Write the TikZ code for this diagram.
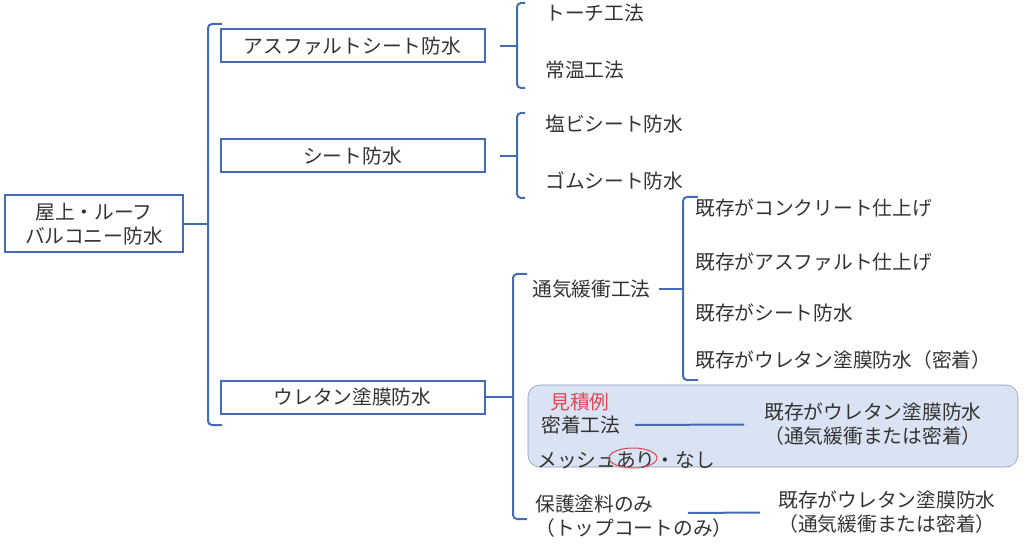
\documentclass[tikz,border=0pt]{standalone}
\usepackage{fontspec}
\setmainfont{Noto Sans CJK JP}
\usepackage{xcolor}
\usetikzlibrary{shapes.geometric}
\definecolor{lineblue}{RGB}{68,108,180}
\definecolor{boxfill}{RGB}{218,227,243}
\definecolor{boxedge}{RGB}{132,151,176}
\definecolor{mark}{RGB}{222,72,84}
\tikzset{
  box/.style={draw=lineblue, line width=1.5pt, minimum width=198pt, minimum height=24.75pt, inner sep=0pt},
  txt/.style={anchor=west, inner sep=0pt},
  brk/.style={draw=lineblue, line width=1.5pt, rounded corners=3pt},
  oval/.style={ellipse, draw=mark, line width=0.75pt, minimum width=36pt, minimum height=15pt, inner sep=0pt},
  every edge/.style={draw=lineblue, line width=1.5pt},
}

\begin{document}
\begin{tikzpicture}[x=0.75pt, y=-0.75pt, every node/.style={font=\fontsize{14.8}{18}\selectfont, text=black!80}]
  \useasboundingbox (0, 0) rectangle (1024, 545);

  \node[box, minimum width=133.5pt, minimum height=42.75pt, align=center] at (94, 224) (root) {屋上・ルーフ\\バルコニー防水};

  \node[box] at (352.5, 46)  (asph)  {アスファルトシート防水};
  \node[box] at (352.5, 156) (sheet) {シート防水};
  \node[box] at (352.5, 397) (ure)   {ウレタン塗膜防水};

  \node[txt] at (545, 13)  (torch) {トーチ工法};
  \node[txt] at (545, 70)  (jouon) {常温工法};
  \node[txt] at (545, 124) (enbi)  {塩ビシート防水};
  \node[txt] at (545, 181) (gomu)  {ゴムシート防水};

  \node[txt] at (532, 289) (tsuki) {通気緩衝工法};
  \node[txt] at (695, 208) (k1) {既存がコンクリート仕上げ};
  \node[txt] at (695, 262) (k2) {既存がアスファルト仕上げ};
  \node[txt] at (695, 313) (k3) {既存がシート防水};
  \node[txt] at (695, 360) (k4) {既存がウレタン塗膜防水（密着）};

  \node[draw=boxedge, fill=boxfill, rounded corners=9pt, minimum width=367.5pt, minimum height=61.5pt] at (773, 426) (ex) {};
  \node[txt, text=mark] at (550, 402) (mitsumori) {見積例};
  \node[txt] at (541, 425) (mitchaku) {密着工法};
  \node[txt] at (537, 460) (mesh) {メッシュあり・なし};
  \node[oval] at (633, 458) (ari) {};
  \node[align=center, inner sep=0pt] at (873, 424.5) (kz1) {既存がウレタン塗膜防水\\（通気緩衝または密着）};

  \node[txt, align=left] at (535, 516) (hogo) {保護塗料のみ\\（トップコートのみ）};
  \node[align=center, inner sep=0pt] at (887, 512.5) (kz2) {既存がウレタン塗膜防水\\（通気緩衝または密着）};

  \coordinate (t1) at (208, 224);
  \coordinate (t2) at (517, 46);
  \coordinate (t3) at (517, 156);
  \coordinate (t4) at (513, 397);
  \coordinate (t5) at (683, 289);

  \draw[brk] (222, 24) -- (208, 24) -- (208, 425) -- (222, 425);
  \draw[brk] (525, 3) -- (517, 3) -- (517, 88) -- (525, 88);
  \draw[brk] (525, 113) -- (517, 113) -- (517, 198) -- (525, 198);
  \draw[brk] (527, 274) -- (513, 274) -- (513, 519) -- (527, 519);
  \draw[brk] (698, 197) -- (683, 197) -- (683, 380) -- (698, 380);

  \draw (root) edge (t1);
  \draw ([xshift=10.5pt]asph.east) edge (t2);
  \draw ([xshift=10.5pt]sheet.east) edge (t3);
  \draw (ure) edge (t4);
  \draw ([xshift=6pt]tsuki.east) edge (t5);
  \draw ([xshift=11pt]mitchaku.east) edge ([xshift=-15pt]kz1.west);
  \draw ([xshift=-33.75pt,yshift=2.25pt]hogo.east) edge ([xshift=-13.5pt]kz2.west);
\end{tikzpicture}
\end{document}
